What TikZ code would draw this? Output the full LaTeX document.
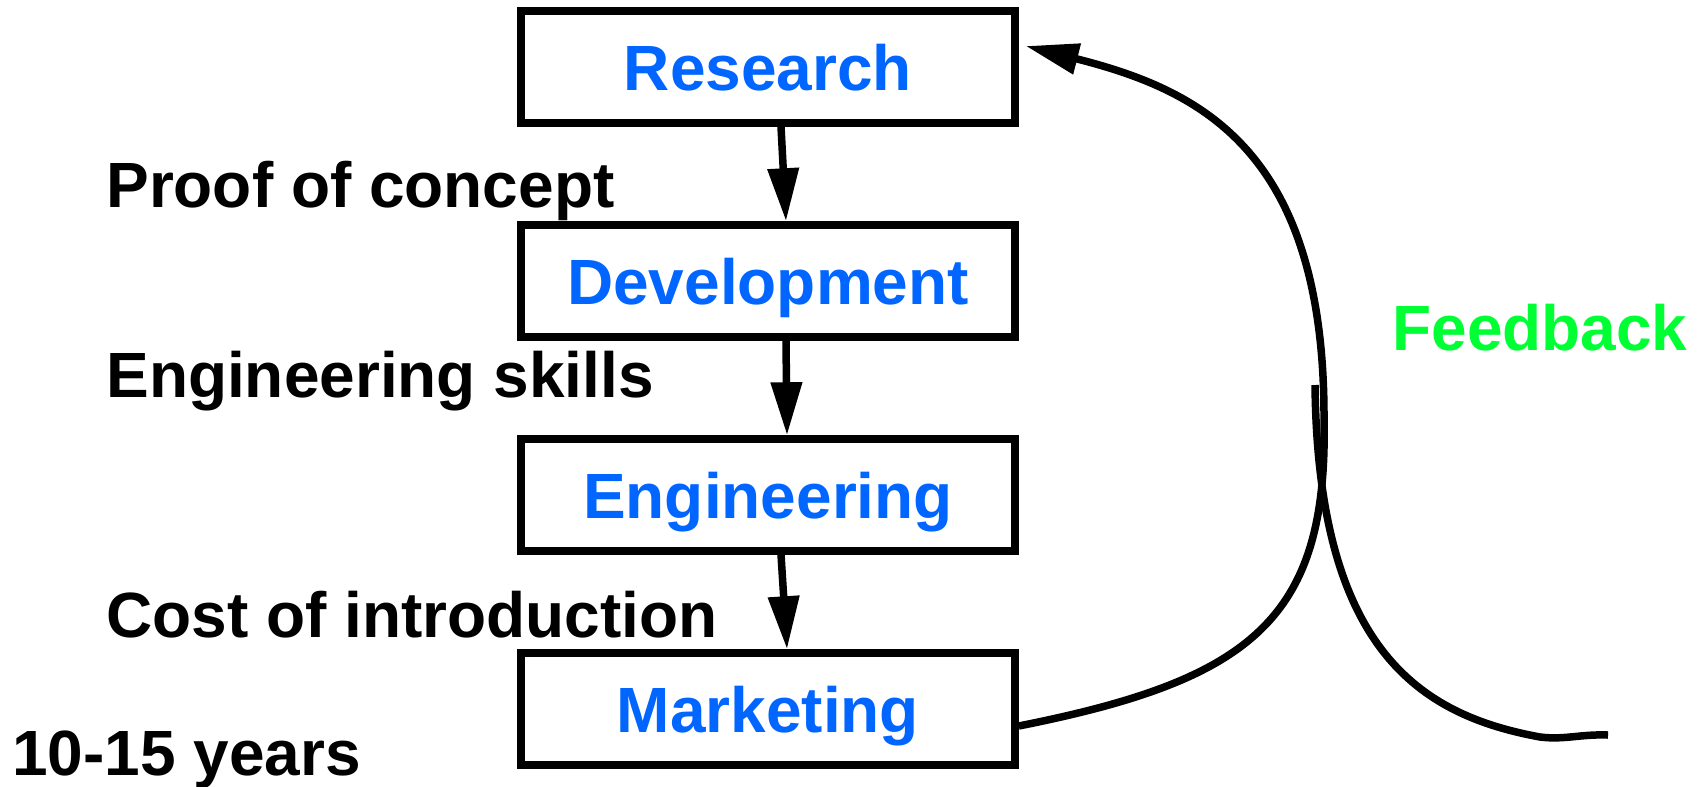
\documentclass[tikz,border=0pt]{standalone}
\usepackage{fontspec}
\setmainfont{Liberation Sans}
\usetikzlibrary{positioning,arrows.meta}
\definecolor{StageBlue}{RGB}{0,102,255}
\definecolor{LoopGreen}{RGB}{0,255,51}

\begin{document}
\begin{tikzpicture}[>={Triangle[length=1.06cm,width=0.6cm]},
      font=\fontsize{36.4}{40}\selectfont\bfseries,
      stage/.style={draw,line width=0.15cm,minimum width=9.88cm,minimum height=2.24cm,
                    text=StageBlue,inner sep=0pt,text height=0.92cm,text depth=0cm},
      lbl/.style={anchor=base west,inner sep=0pt},
      ar/.style={->,line width=0.15cm}]
    \useasboundingbox (0,0) rectangle (34,-15.72);
    % the four stages, top to bottom
    \node[stage] (res) at (15.36,-1.34) {Research};
    \node[stage,below=1.89cm of res] (dev) {Development};
    \node[stage,below=1.89cm of dev] (eng) {Engineering};
    \node[stage,below=1.89cm of eng] (mkt) {Marketing};
    \foreach \a/\b/\s/\e in {res/dev/0.26/0.36,dev/eng/0.36/0.38,eng/mkt/0.26/0.38}
      \draw[ar] ([xshift=\s cm]\a.south) -- ([xshift=\e cm]\b.north);
    % what each step costs
    \node[lbl] (poc) at (2.12,-4.14) {Proof of concept};
    \node[lbl] (skl) at (2.12,-7.94) {Engineering skills};
    \node[lbl] (cst) at (2.12,-12.74) {Cost of introduction};
    \node[lbl] (yrs) at (0.24,-15.5) {10-15 years};
    % feedback loop
    \node[lbl,text=LoopGreen] (fb) at (27.84,-7.0) {Feedback};
    \draw[ar] ([yshift=-0.34cm]mkt.east)
      .. controls (25,-13.6) and (26.56,-12.4) .. (26.48,-8.4)
      .. controls (26.5,-3.0) and (24,-1.8) .. ([shift={(0.14,0.42)}]res.east);
    \coordinate (fbtop) at (26.3,-7.7);
    \coordinate (fbend) at (32.16,-14.7);
    \draw[line width=0.15cm] (fbtop) .. controls (26.36,-13.0) and (28.4,-14.3) .. (30.8,-14.74)
      .. controls (31.3,-14.8) and (31.6,-14.68) .. (fbend);
\end{tikzpicture}
\end{document}
